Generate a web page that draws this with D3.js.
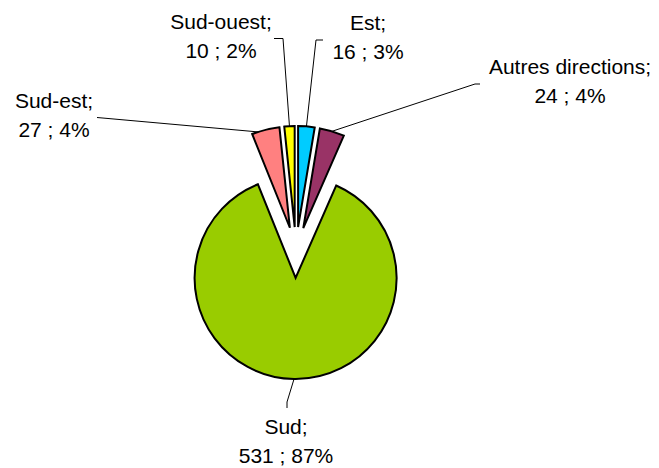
<!DOCTYPE html>
<html>
<head>
<meta charset="utf-8">
<script src="https://cdn.jsdelivr.net/npm/d3@7"></script>
<style>
  html, body { margin: 0; padding: 0; background: #fff; }
  text { font-family: "Liberation Sans", Arial, sans-serif; font-size: 21px; fill: #000; }
</style>
</head>
<body>
<div id="chart"></div>
<script>
// data, in slice order clockwise from 12 o'clock
const directions = ["Est", "Autres directions", "Sud", "Sud-est", "Sud-ouest"];
const counts     = [16, 24, 531, 27, 10];
const colors     = ["#00CCFF", "#993366", "#99CC00", "#FF8080", "#FFFF00"];

// label placement (center x, first baseline y), leader elbow points, anchor along arc
const labelLayout = {
  "Est":               { x: 368, y: 30,  leader: [[323, 40], [316, 40]],   frac: 0.5 },
  "Autres directions": { x: 570, y: 74,  leader: [[480, 84], [475, 84]],   frac: 0.5 },
  "Sud":               { x: 286, y: 434, leader: [[287, 408], [287, 402]], frac: 0.5 },
  "Sud-est":           { x: 54,  y: 108, leader: [[97, 117.5]],            frac: 0.22 },
  "Sud-ouest":         { x: 221, y: 29,  leader: [[274, 38.5], [283, 38.5]], frac: 0.5 }
};

const W = 659, H = 468;
const cx = 296, cy = 252.5, r = 101, explode = 25.5;
const lineGap = 29;

const svg = d3.select("#chart").append("svg")
  .attr("width", W).attr("height", H);
svg.append("rect").attr("width", W).attr("height", H).attr("fill", "#fff");

const total = d3.sum(counts);
const rows = directions.map((d, i) => ({ name: d, value: counts[i], color: colors[i] }));

const pie = d3.pie().sort(null).value(d => d.value).startAngle(0).endAngle(2 * Math.PI);
const arcs = pie(rows);
const arc = d3.arc().innerRadius(0).outerRadius(r);

const g = svg.append("g").attr("transform", `translate(${cx},${cy})`);

// exploded slices
g.selectAll("path.slice").data(arcs).enter().append("path")
  .attr("class", "slice")
  .attr("transform", d => {
    const a = (d.startAngle + d.endAngle) / 2;
    return `translate(${explode * Math.sin(a)},${-explode * Math.cos(a)})`;
  })
  .attr("d", arc)
  .attr("fill", d => d.data.color)
  .attr("stroke", "#000")
  .attr("stroke-width", 2)
  .attr("stroke-linejoin", "miter");

// leader lines
const line = d3.line();
arcs.forEach(d => {
  const lay = labelLayout[d.data.name];
  const mid = (d.startAngle + d.endAngle) / 2;
  const a = d.startAngle + (d.endAngle - d.startAngle) * lay.frac;
  const ox = cx + explode * Math.sin(mid), oy = cy - explode * Math.cos(mid);
  const end = [ox + r * Math.sin(a), oy - r * Math.cos(a)];
  svg.append("path")
    .attr("d", line(lay.leader.concat([end])))
    .attr("fill", "none")
    .attr("stroke", "#000")
    .attr("stroke-width", 1);
});

// labels
arcs.forEach(d => {
  const lay = labelLayout[d.data.name];
  const pct = Math.round(d.data.value / total * 100);
  const t = svg.append("text").attr("text-anchor", "middle");
  t.append("tspan").attr("x", lay.x).attr("y", lay.y).text(`${d.data.name};`);
  t.append("tspan").attr("x", lay.x).attr("y", lay.y + lineGap).text(`${d.data.value} ; ${pct}%`);
});
</script>
</body>
</html>
